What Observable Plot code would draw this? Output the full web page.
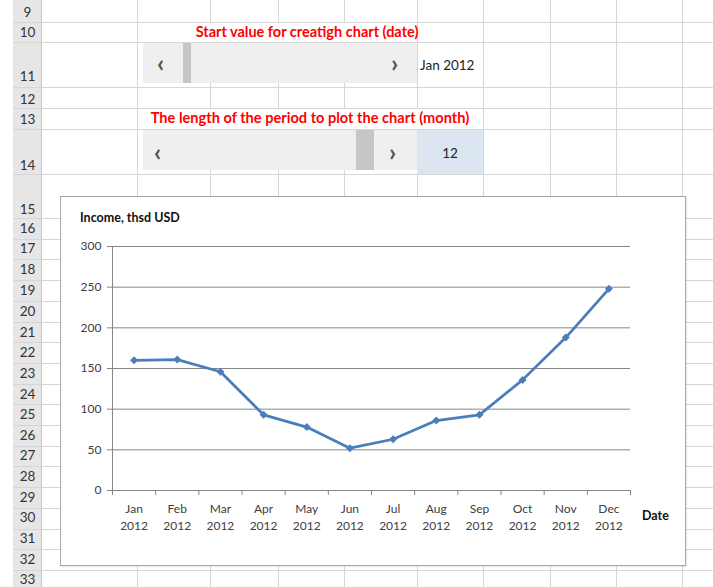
<!DOCTYPE html>
<html>
<head>
<meta charset="utf-8">
<script src="https://cdn.jsdelivr.net/npm/d3@7"></script>
<script src="https://cdn.jsdelivr.net/npm/@observablehq/plot@0.6"></script>
<style>
  body { margin: 0; background: #fff; }
  #page { position: relative; width: 713px; height: 587px; overflow: hidden; background: #fff; font-family: Lato, "Open Sans", sans-serif; }
  .abs { position: absolute; }
  .txt { position: absolute; white-space: nowrap; line-height: 1; }
</style>
</head>
<body>
<div id="page"></div>
<script>
// ---- chart data ----
const months = ["Jan", "Feb", "Mar", "Apr", "May", "Jun", "Jul", "Aug", "Sep", "Oct", "Nov", "Dec"];
const years = ["2012", "2012", "2012", "2012", "2012", "2012", "2012", "2012", "2012", "2012", "2012", "2012"];
const income = [160, 161, 146, 93, 78, 52, 63, 86, 93, 136, 188, 248];
const yTicks = [0, 50, 100, 150, 200, 250, 300];

// ---- spreadsheet decoration ----
const rowNums = [9, 10, 11, 12, 13, 14, 15, 16, 17, 18, 19, 20, 21, 22, 23, 24, 25, 26, 27, 28, 29, 30, 31, 32, 33];
const rowLabelY = [13, 33, 77, 100, 120, 166, 210, 229, 249, 270, 291, 312, 333, 353, 374, 395, 415, 436, 456, 477, 498, 518, 539, 560, 580];
const rowLines = [22, 42, 87, 108, 129, 174, 218].concat(d3.range(1, 19).map(k => 218 + 20.7 * k));
const colLines = [137, 210, 278, 344, 417, 483, 550, 616, 682];

const page = document.getElementById("page");
function box(css) { const d = document.createElement("div"); d.className = "abs"; Object.assign(d.style, css); page.appendChild(d); return d; }
function text(str, css) { const d = document.createElement("div"); d.className = "txt"; d.textContent = str; Object.assign(d.style, css); page.appendChild(d); return d; }

// row header column
box({left: "13px", top: "0px", width: "29px", height: "587px", background: "#e6e6e6", borderRight: "1px solid #c6c6c6", boxSizing: "border-box"});
// gridlines
rowLines.forEach(y => box({left: "13px", top: y + "px", width: "700px", height: "1px", background: "#d6d6d6"}));
colLines.forEach(x => box({left: x + "px", top: "0px", width: "1px", height: "587px", background: "#d6d6d6"}));
// row numbers
rowNums.forEach((n, i) => text(String(n), {left: "13px", width: "29px", textAlign: "center", top: (rowLabelY[i] - 7) + "px", fontSize: "13.5px", color: "#333"}));

// text overflow areas hide gridlines
box({left: "138px", top: "23px", width: "279px", height: "19px", background: "#fff"});
box({left: "138px", top: "109px", width: "345px", height: "20px", background: "#fff"});

// red labels
text("Start value for creatigh chart (date)", {left: "137px", width: "340px", textAlign: "center", top: "25px", fontSize: "14.5px", fontWeight: "700", color: "#ff0000"});
text("The length of the period to plot the chart (month)", {left: "137px", width: "346px", textAlign: "center", top: "111px", fontSize: "14.6px", fontWeight: "700", color: "#ff0000"});

// scrollbar 1
box({left: "143px", top: "43px", width: "274px", height: "40px", background: "#efefef"});
box({left: "183px", top: "43px", width: "8px", height: "40px", background: "#c6c6c6"});
text("\u2039", {left: "157px", top: "50px", fontSize: "25px", fontWeight: "700", color: "#555"});
text("\u203A", {left: "391px", top: "50px", fontSize: "25px", fontWeight: "700", color: "#555"});
text("Jan 2012", {left: "420px", top: "59px", fontSize: "13.5px", color: "#222"});

// scrollbar 2
box({left: "417px", top: "130px", width: "66px", height: "44px", background: "#dce6f1"});
box({left: "143px", top: "130px", width: "274px", height: "40px", background: "#efefef"});
box({left: "356px", top: "130px", width: "18px", height: "40px", background: "#c6c6c6"});
text("\u2039", {left: "154px", top: "139px", fontSize: "25px", fontWeight: "700", color: "#555"});
text("\u203A", {left: "389px", top: "139px", fontSize: "25px", fontWeight: "700", color: "#555"});
text("12", {left: "417px", width: "66px", textAlign: "center", top: "147px", fontSize: "13.5px", color: "#222"});

// chart area
box({left: "60px", top: "196px", width: "626px", height: "370px", background: "#fff", border: "1px solid #a8a8a8", boxSizing: "border-box", boxShadow: "1px 1px 1px rgba(0,0,0,0.08)"});

const data = months.map((m, i) => ({pos: i + 0.5, month: m, year: years[i], value: income[i]}));

const chart = Plot.plot({
  width: 626,
  height: 370,
  marginLeft: 52,
  marginRight: 56,
  marginTop: 50,
  marginBottom: 76,
  style: {fontFamily: "Lato, sans-serif", fontSize: "12px", color: "#404040", background: "transparent", overflow: "visible"},
  x: {domain: [0, months.length], axis: null},
  y: {domain: [0, 300], axis: null},
  marks: [
    Plot.gridY(yTicks.filter(d => d > 0), {stroke: "#868686", strokeOpacity: 1}),
    Plot.ruleY([0], {stroke: "#868686"}),
    Plot.ruleX([0], {stroke: "#868686"}),
    Plot.axisY(yTicks, {anchor: "left", tickSize: 5, tickPadding: 6, stroke: "#868686", fill: "#404040", label: null, tickFormat: d => String(d)}),
    Plot.axisX(d3.range(months.length + 1), {anchor: "bottom", tickSize: 5, tickFormat: () => "", stroke: "#868686", label: null}),
    Plot.axisX(data.map(d => d.pos), {anchor: "bottom", tickSize: 0, tickPadding: 10, lineHeight: 1.42, fill: "#404040", label: null,
      tickFormat: d => `${months[Math.floor(d)]}\n${years[Math.floor(d)]}`}),
    Plot.line(data, {x: "pos", y: "value", stroke: "#4a7ebb", strokeWidth: 2.75}),
    Plot.dot(data, {x: "pos", y: "value", symbol: "diamond2", r: 3.6, fill: "#4a7ebb"})
  ]
});
const holder = box({left: "60px", top: "196px", width: "626px", height: "370px"});
holder.appendChild(chart);

// chart texts
text("Income, thsd USD", {left: "80px", top: "212px", fontSize: "12.5px", fontWeight: "700", color: "#111"});
text("Date", {left: "642px", top: "510px", fontSize: "12.5px", fontWeight: "700", color: "#111"});
</script>
</body>
</html>
